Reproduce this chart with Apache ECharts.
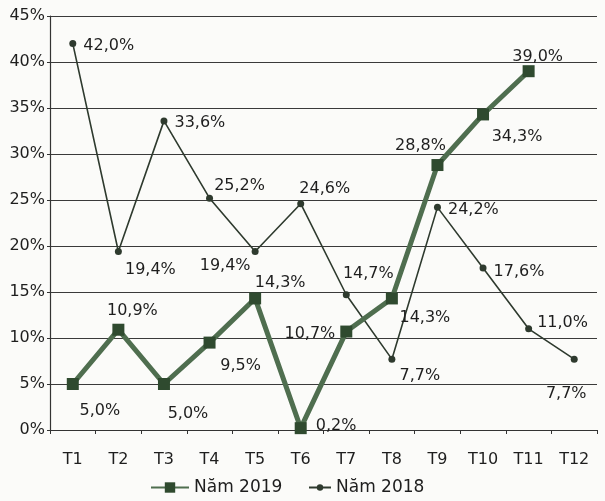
<!DOCTYPE html>
<html><head><meta charset="utf-8">
<script src="https://cdn.jsdelivr.net/npm/echarts@6/dist/echarts.min.js"></script>
<style>html,body{margin:0;padding:0;background:#fbfbf9}#c{width:605px;height:501px}</style>
</head><body><div id="c"></div>
<script>
const categories = ['T1','T2','T3','T4','T5','T6','T7','T8','T9','T10','T11','T12'];
const yTicks = [0,5,10,15,20,25,30,35,40,45];
const s2019 = [5.0,10.9,5.0,9.5,14.3,0.2,10.7,14.3,28.8,34.3,39.0,null];
const s2018 = [42.0,19.4,33.6,25.2,19.4,24.6,14.7,7.7,24.2,17.6,11.0,7.7];
const name2019 = 'Năm 2019';
const name2018 = 'Năm 2018';

// label placement (style only)
const lab2019 = [
  {position:'bottom', offset:[27,8]},
  {position:'top', offset:[14,0]},
  {position:'bottom', offset:[24,11]},
  {position:'bottom', offset:[31,4]},
  {position:'top', offset:[25,3]},
  {position:'right', offset:[4,-2]},
  {position:'left', offset:[0,2]},
  {position:'bottom', offset:[33,0]},
  {position:'top', offset:[-17,0]},
  {position:'bottom', offset:[34,3]},
  {position:'top', offset:[9,5]},
  null
];
const lab2018 = [
  {position:'right', offset:[2,2]},
  {position:'bottom', offset:[32,2]},
  {position:'right', offset:[2,2]},
  {position:'top', offset:[30,4]},
  {position:'bottom', offset:[-30,-2]},
  {position:'top', offset:[24,2]},
  {position:'top', offset:[22,-4]},
  {position:'bottom', offset:[28,0]},
  {position:'right', offset:[2,2]},
  {position:'right', offset:[2,4]},
  {position:'right', offset:[0,-6]},
  {position:'bottom', offset:[-8,18]}
];
const fmt = v => v.toFixed(1).replace('.', ',') + '%';
const FONT = 'DejaVu Sans';
const TXT = '#1e1e1e';

function build(vals, labs, base) {
  return vals.map((v,i) => v == null ? null : {
    value: v,
    label: Object.assign({}, base, labs[i], {formatter: fmt(v)})
  });
}
const baseLab = {show:true, fontFamily:FONT, fontSize:16, color:TXT};

const chart = echarts.init(document.getElementById('c'));
chart.setOption({
  backgroundColor:'#fbfbf9',
  animation:false,
  textStyle:{fontFamily:FONT},
  grid:{left:50, right:8, top:16, bottom:71, containLabel:false},
  legend:[
    {data:[name2019], left:150, top:479, padding:0, itemWidth:38, itemHeight:13, itemGap:4,
     textStyle:{fontFamily:FONT, fontSize:17, color:TXT}},
    {data:[name2018], left:308, top:479, padding:0, itemWidth:22, itemHeight:8, itemGap:4,
     textStyle:{fontFamily:FONT, fontSize:17, color:TXT}}
  ],
  xAxis:{
    type:'category', data:categories, boundaryGap:true,
    axisLine:{lineStyle:{color:'#333', width:1.2}},
    axisTick:{show:true, alignWithLabel:false, length:4, lineStyle:{color:'#333'}},
    axisLabel:{fontFamily:FONT, fontSize:16, color:TXT, margin:22}
  },
  yAxis:{
    type:'value', min:0, max:45, interval:5,
    axisLine:{show:true, lineStyle:{color:'#333', width:1.2}},
    axisTick:{show:true, length:3, lineStyle:{color:'#333'}},
    axisLabel:{fontFamily:FONT, fontSize:16, color:TXT, margin:5,
      formatter: v => yTicks.includes(v) ? v + '%' : ''},
    splitLine:{show:true, lineStyle:{color:'#3a3a3a', width:1.2}}
  },
  series:[
    {
      name:name2019, type:'line', data:build(s2019, lab2019, baseLab),
      symbol:'rect', symbolSize:12, connectNulls:false,
      lineStyle:{color:'#4f6e4f', width:5},
      itemStyle:{color:'#2f4a2f'},
      z:3
    },
    {
      name:name2018, type:'line', data:build(s2018, lab2018, baseLab),
      symbol:'circle', symbolSize:7,
      lineStyle:{color:'#2e3a2e', width:1.6},
      itemStyle:{color:'#2e3a2e'},
      z:2
    }
  ]
});
</script></body></html>
